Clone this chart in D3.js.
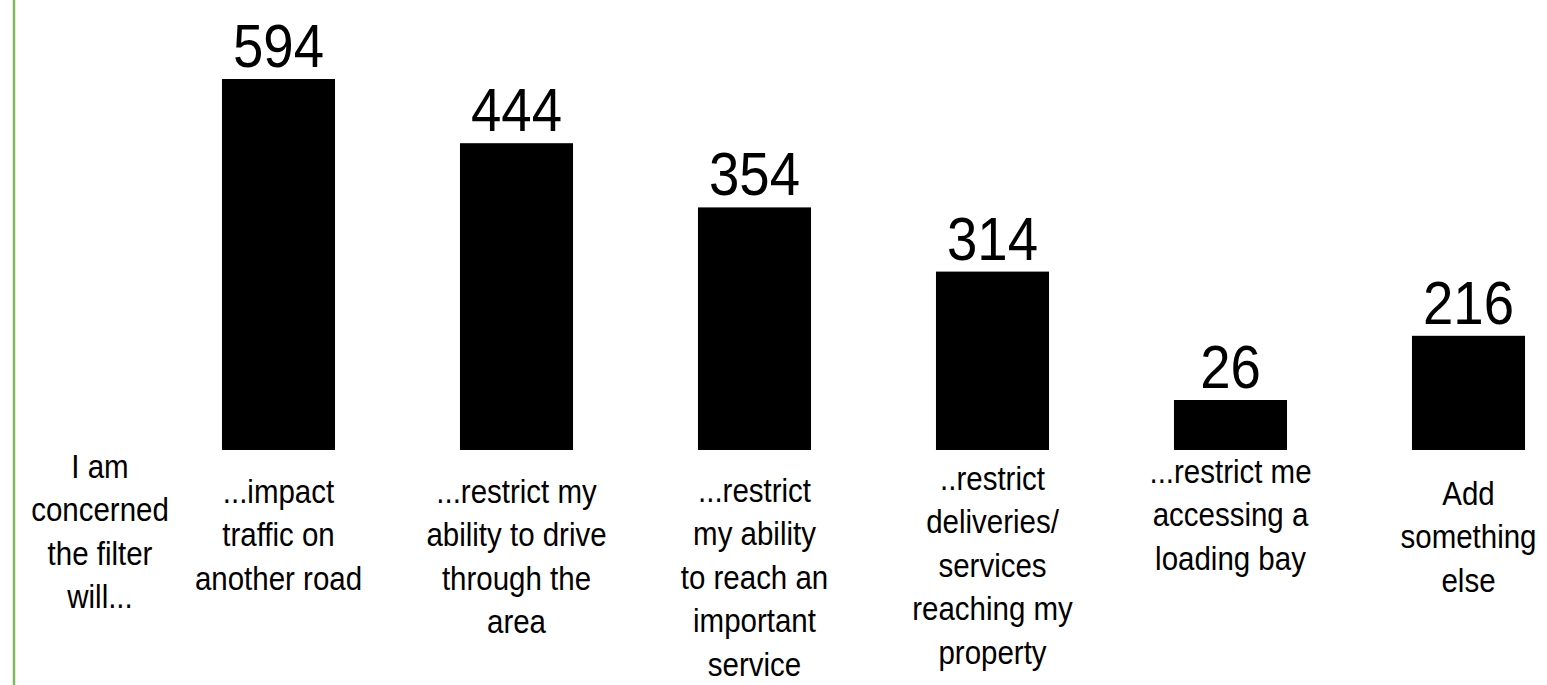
<!DOCTYPE html>
<html>
<head>
<meta charset="utf-8">
<script src="https://cdn.jsdelivr.net/npm/d3@7"></script>
<style>
  html, body { margin: 0; padding: 0; background: #fff; }
  svg { display: block; }
  text { font-family: "Liberation Sans", Arial, sans-serif; fill: #000; }
</style>
</head>
<body>
<svg id="chart" width="1547" height="685"></svg>
<script>
// ---- data ----
const introLabel = ["I am", "concerned", "the filter", "will..."];
const categories = [
  "...impact traffic on another road",
  "...restrict my ability to drive through the area",
  "...restrict my ability to reach an important service",
  "..restrict deliveries/ services reaching my property",
  "...restrict me accessing a loading bay",
  "Add something else"
];
const categoryLines = [
  ["...impact", "traffic on", "another road"],
  ["...restrict my", "ability to drive", "through the", "area"],
  ["...restrict", "my ability", "to reach an", "important", "service"],
  ["..restrict", "deliveries/", "services", "reaching my", "property"],
  ["...restrict me", "accessing a", "loading bay"],
  ["Add", "something", "else"]
];
const values = [594, 444, 354, 314, 26, 216];

// ---- layout ----
const W = 1547, H = 685;
const baseY = 450;
const labelStartY = [503, 503, 502, 490, 483, 505]; // first-line baselines (layout)
const introStartY = 478;
const lineH = 43.5;
const condense = 0.88;
const svg = d3.select("#chart");

// left green rule
svg.append("line")
  .attr("x1", 14).attr("x2", 14).attr("y1", 0).attr("y2", H)
  .attr("stroke", "#7dba5c").attr("stroke-width", 2.5);

const x = d3.scaleBand()
  .domain(categories)
  .range([159.5, 159.5 + 238 * categories.length])
  .paddingInner(0.525)
  .paddingOuter(0.2625);

// The infographic draws bars by rank (evenly stepped heights), not to linear scale.
const sortedVals = values.slice().sort((a, b) => a - b);
const y = d3.scalePoint()
  .domain(sortedVals)
  .range([400, 79]);

const g = svg.append("g");

g.selectAll("rect.bar")
  .data(values)
  .join("rect")
  .attr("class", "bar")
  .attr("x", (d, i) => x(categories[i]))
  .attr("width", x.bandwidth())
  .attr("y", d => y(d))
  .attr("height", d => baseY - y(d))
  .attr("fill", "#000");

// value labels
g.selectAll("text.val")
  .data(values)
  .join("text")
  .attr("class", "val")
  .attr("transform", (d, i) => `translate(${x(categories[i]) + x.bandwidth() / 2},${y(d) - 12}) scale(${condense},1)`)
  .attr("text-anchor", "middle")
  .attr("font-size", 62)
  .text(d => d);

// category labels
categoryLines.forEach((lines, i) => {
  const cx = x(categories[i]) + x.bandwidth() / 2;
  const t = g.append("g")
    .attr("transform", `translate(${cx},${labelStartY[i]}) scale(${condense},1)`);
  t.selectAll("text")
    .data(lines)
    .join("text")
    .attr("text-anchor", "middle")
    .attr("y", (d, j) => j * lineH)
    .attr("font-size", 33.5)
    .text(d => d);
});

// intro label
const it = g.append("g").attr("transform", `translate(100,${introStartY}) scale(${condense},1)`);
it.selectAll("text")
  .data(introLabel)
  .join("text")
  .attr("text-anchor", "middle")
  .attr("y", (d, j) => j * lineH)
  .attr("font-size", 33.5)
  .text(d => d);
</script>
</body>
</html>
